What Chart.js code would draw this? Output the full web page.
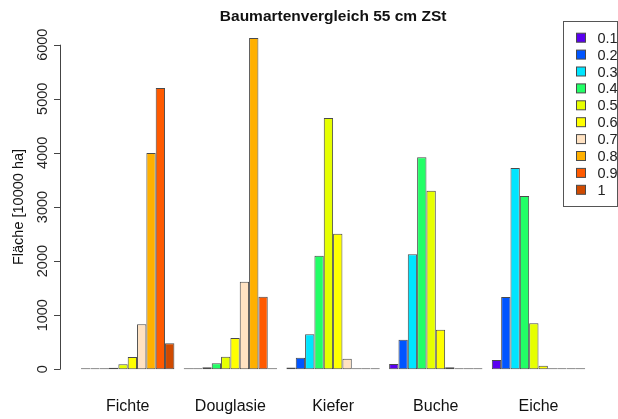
<!DOCTYPE html>
<html>
<head>
<meta charset="utf-8">
<script src="https://cdn.jsdelivr.net/npm/chart.js@4/dist/chart.umd.min.js"></script>
<style>
  html, body { margin: 0; padding: 0; background: #fff; }
  #wrap { width: 618px; height: 419px; }
</style>
</head>
<body>
<div id="wrap"><canvas id="chart" width="618" height="419"></canvas></div>
<script>
// Baumarten (groups on the x axis)
var species = ["Fichte", "Douglasie", "Kiefer", "Buche", "Eiche"];
// classes shown in the legend
var classes = ["0.1", "0.2", "0.3", "0.4", "0.5", "0.6", "0.7", "0.8", "0.9", "1"];
var classColors = ["#5a00f0", "#0055ff", "#00e5ff", "#22ff66", "#e6ff00",
                   "#ffff00", "#ffe2c2", "#ffb000", "#ff5a00", "#cf4a00"];

// area per species for each class
var v01 = [0, 0, 35, 98, 172];
var v02 = [0, 5, 215, 547, 1336];
var v03 = [12, 37, 647, 2125, 3720];
var v04 = [30, 111, 2100, 3918, 3203];
var v05 = [92, 233, 4645, 3301, 850];
var v06 = [227, 578, 2506, 732, 67];
var v07 = [831, 1619, 196, 37, 0];
var v08 = [3998, 6123, 0, 0, 0];
var v09 = [5200, 1342, 0, 0, 0];
var v10 = [480, 0, 0, 0, 0];
var seriesValues = [v01, v02, v03, v04, v05, v06, v07, v08, v09, v10];

var yTicks = [0, 1000, 2000, 3000, 4000, 5000, 6000];

var datasets = classes.map(function (c, i) {
  return {
    label: c,
    data: seriesValues[i],
    backgroundColor: classColors[i],
    borderColor: "#4a4a4a",
    borderWidth: 1,
    borderSkipped: false,
    minBarLength: 1,
    categoryPercentage: 10 / 11,
    barPercentage: 1,
    clip: false
  };
});

// R style y axis line (0..6000 only) + legend box
var rStuff = {
  id: "rStuff",
  afterDraw: function (chart) {
    var ctx = chart.ctx;
    var y = chart.scales.y;
    ctx.save();
    ctx.strokeStyle = "#444";
    ctx.lineWidth = 1;
    ctx.beginPath();
    ctx.moveTo(60.5, y.getPixelForValue(yTicks[0]));
    ctx.lineTo(60.5, y.getPixelForValue(yTicks[yTicks.length - 1]));
    yTicks.forEach(function (t) {
      var py = Math.round(y.getPixelForValue(t)) + 0.5;
      ctx.moveTo(54, py);
      ctx.lineTo(60.5, py);
    });
    ctx.stroke();

    // legend
    ctx.strokeStyle = "#555";
    ctx.strokeRect(563.5, 21.5, 54, 185);
    ctx.font = "14.5px 'Liberation Sans', Arial, sans-serif";
    ctx.textBaseline = "middle";
    chart.data.datasets.forEach(function (ds, i) {
      var cy = 37.7 + i * 16.9;
      ctx.fillStyle = ds.backgroundColor;
      ctx.fillRect(576.5, cy - 4.5, 9, 9);
      ctx.strokeStyle = "#4a4a4a";
      ctx.strokeRect(576.5, cy - 4.5, 9, 9);
      ctx.fillStyle = "#222";
      ctx.fillText(ds.label, 597.5, cy + 1);
    });
    ctx.restore();
  }
};

new Chart(document.getElementById("chart"), {
  type: "bar",
  data: { labels: species, datasets: datasets },
  options: {
    responsive: false,
    animation: false,
    layout: { padding: { left: 0, right: 28.15, top: 0, bottom: 0 } },
    plugins: {
      legend: { display: false },
      tooltip: { enabled: false },
      title: {
        display: true,
        fullSize: false,
        text: "Baumartenvergleich 55 cm ZSt",
        color: "#111",
        font: { family: "'Liberation Sans', Arial, sans-serif", size: 15.5, weight: "bold" },
        padding: { top: 7.5, bottom: 18.6 }
      }
    },
    scales: {
      x: {
        grid: { display: false },
        border: { display: false },
        ticks: {
          color: "#111",
          padding: 20,
          font: { family: "'Liberation Sans', Arial, sans-serif", size: 16 }
        },
        afterFit: function (s) { s.height = 49.7; }
      },
      y: {
        min: 0,
        max: 6000,
        grid: { display: false, drawTicks: false },
        border: { display: false },
        afterBuildTicks: function (s) {
          s.ticks = yTicks.map(function (t) { return { value: t }; });
        },
        ticks: {
          minRotation: 90,
          maxRotation: 90,
          crossAlign: "center",
          padding: 17.2,
          color: "#222",
          font: { family: "'Liberation Sans', Arial, sans-serif", size: 14.5 },
          callback: function (v) { return String(v); }
        },
        title: {
          display: true,
          text: "Fläche [10000 ha]",
          color: "#111",
          padding: { top: 10.5, bottom: 0 },
          font: { family: "'Liberation Sans', Arial, sans-serif", size: 14.5 }
        },
        afterFit: function (s) { s.width = 76.35; }
      }
    }
  },
  plugins: [rStuff]
});
</script>
</body>
</html>
